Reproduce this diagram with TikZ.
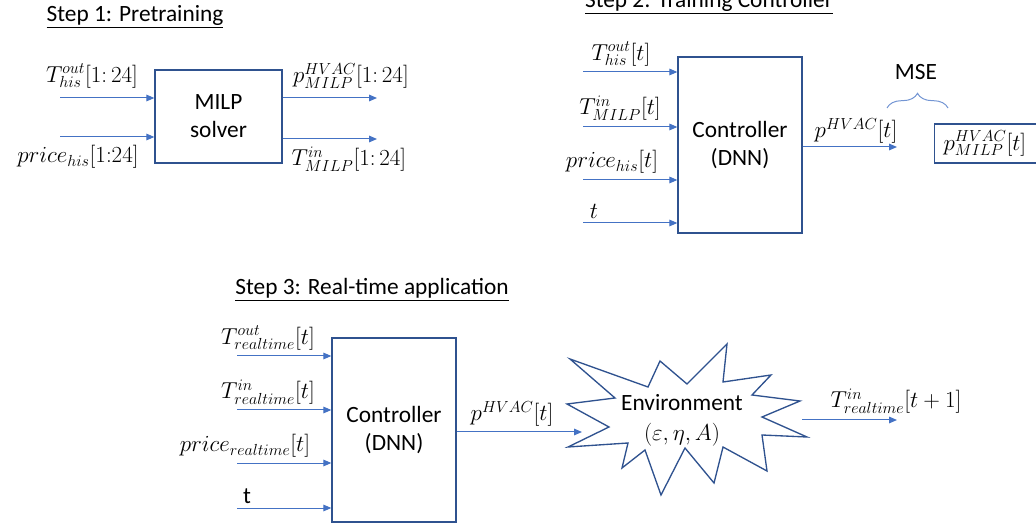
\documentclass[tikz,border=0pt]{standalone}
\usepackage{fontspec}
\setmainfont{Carlito}
\usetikzlibrary{arrows.meta, positioning, decorations.pathreplacing}
\definecolor{flowblue}{HTML}{4472C4}
\definecolor{edgeblue}{HTML}{2F528F}
\tikzset{
  flow/.style={draw=flowblue, line width=0.75pt, -{Triangle[length=6pt,width=5pt]}},
  block/.style={draw=edgeblue, line width=1pt, align=center, inner sep=0pt},
  lbl/.style={inner sep=0pt},
  mlbl/.style={inner sep=0pt, font=\fontsize{18.5}{22}\selectfont}
}

\begin{document}
\begin{tikzpicture}[x=0.75pt, y=-0.75pt, every node/.style={font=\fontsize{17.5}{21}\selectfont}]
\useasboundingbox (0,0) rectangle (1036,527);

% Step 1
\node[lbl] (title1) at (135,17) {\underline{Step 1: Pretraining}};
\node[block, minimum width=95.25pt, minimum height=69.75pt] (milp) at (218.5,116.5) {MILP\\solver};

\coordinate (in1a) at (60,98);
\coordinate (in1b) at (60,137);
\coordinate (out1a) at (377,98);
\coordinate (out1b) at (377,139);

\draw[flow] (in1a) -- (in1a -| milp.west);
\draw[flow] (in1b) -- (in1b -| milp.west);
\draw[flow] (out1a -| milp.east) -- (out1a);
\draw[flow] (out1b -| milp.east) -- (out1b);

\node[mlbl] (tout1) at (92,76) {$T^{out}_{his}[1{:}\,24]$};
\node[mlbl] (price1) at (78,157) {$price_{his}[1{:}24]$};
\node[mlbl] (pmilp1) at (351,76) {$p^{HVAC}_{MILP}[1{:}\,24]$};
\node[mlbl] (tin1) at (349,159) {$T^{in}_{MILP}[1{:}\,24]$};

% Step 2
\node[lbl] (title2) at (709,3) {\underline{Step 2: Training Controller}};
\node[block, minimum width=93pt, minimum height=132pt] (dnn2) at (740,145) {Controller\\(DNN)};

\coordinate (in2a) at (583,72);
\coordinate (in2b) at (583,127);
\coordinate (in2c) at (583,180);
\coordinate (in2d) at (583,223);
\coordinate (out2) at (897,147);

\draw[flow] (in2a) -- (in2a -| dnn2.west);
\draw[flow] (in2b) -- (in2b -| dnn2.west);
\draw[flow] (in2c) -- (in2c -| dnn2.west);
\draw[flow] (in2d) -- (in2d -| dnn2.west);
\draw[flow] (out2 -| dnn2.east) -- (out2);

\node[mlbl] (tout2) at (621,54) {$T^{out}_{his}[t]$};
\node[mlbl] (tin2) at (620,108) {$T^{in}_{MILP}[t]$};
\node[mlbl] (price2) at (612,162) {$price_{his}[t]$};
\node[mlbl] (time2) at (594,211) {$t$};
\node[mlbl] (phvac2) at (856,131) {$p^{HVAC}[t]$};

\node[lbl] (mse) at (916,72) {MSE};
\draw[flowblue!75, line width=0.75pt, decorate, decoration={brace, amplitude=11pt}] (887,108) -- (948,108);
\node[block, anchor=west, minimum height=29.25pt, inner xsep=6.75pt, font=\fontsize{18}{22}\selectfont] (pmilp2) at (934,143.5) {$p^{HVAC}_{MILP}[t]$\hspace*{12pt}};

% Step 3
\node[lbl] (title3) at (372,290) {\underline{Step 3: Real-time application}};
\node[block, minimum width=93pt, minimum height=138pt] (dnn3) at (394,430) {Controller\\(DNN)};

\coordinate (in3a) at (237,356);
\coordinate (in3b) at (237,410);
\coordinate (in3c) at (237,463);
\coordinate (in3d) at (237,508);
\coordinate (envin) at (582,432);
\coordinate (envout) at (802,420);
\coordinate (tnext) at (897,420);

\draw[flow] (in3a) -- (in3a -| dnn3.west);
\draw[flow] (in3b) -- (in3b -| dnn3.west);
\draw[flow] (in3c) -- (in3c -| dnn3.west);
\draw[flow] (in3d) -- (in3d -| dnn3.west);
\draw[flow] (envin -| dnn3.east) -- (envin);
\draw[flow] (envout) -- (tnext);

\node[mlbl] (tout3) at (268,338) {$T^{out}_{realtime}[t]$};
\node[mlbl] (tin3) at (268,392) {$T^{in}_{realtime}[t]$};
\node[mlbl] (price3) at (245,446) {$price_{realtime}[t]$};
\node[lbl] (time3) at (247,496) {t};
\node[mlbl] (phvac3) at (512,414) {$p^{HVAC}[t]$};

% environment burst
\draw[edgeblue, line width=1pt, line join=miter]
  (570,359) -- (648,387) -- (660,361) -- (687,384) -- (727,344) -- (723,382)
  -- (771,375) -- (752,395) -- (800,401) -- (762,417) -- (807,437) -- (762,435)
  -- (767,471) -- (723,447) -- (714,483) -- (685,448) -- (661,495) -- (645,450)
  -- (622,468) -- (628,443) -- (568,447) -- (609,427) -- (567,404) -- (615,398)
  -- cycle;
\node[lbl, align=center, font=\fontsize{17.5}{22.5}\selectfont] (env) at (682,420) {Environment\\$(\varepsilon,\eta,A)$};
\node[mlbl] (tnextlbl) at (896,401) {$T^{in}_{realtime}[t+1]$};
\end{tikzpicture}
\end{document}
